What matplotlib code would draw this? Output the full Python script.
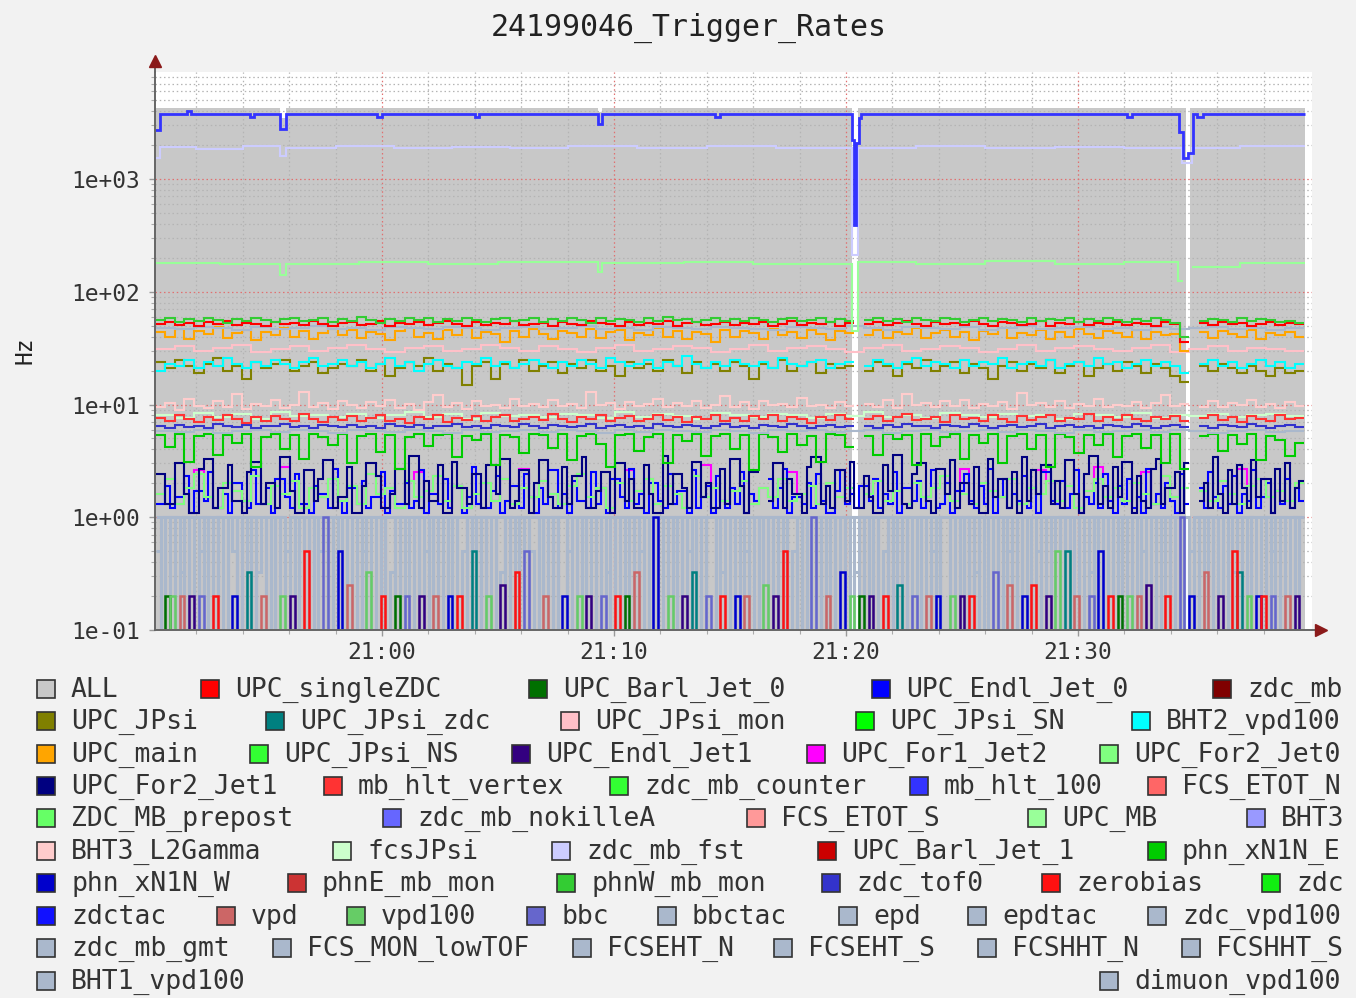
import numpy as np
import matplotlib
matplotlib.use('Agg')
import matplotlib.pyplot as plt
from matplotlib.patches import Rectangle
from matplotlib.ticker import FixedLocator, FuncFormatter, LogLocator, NullFormatter

W, H = 1356, 998
MONO = 'DejaVu Sans Mono'
GB = '#aab8cc'
FLOOR = 0.05
NA = np.nan   # no sample (run stopped)

# time axis: minutes after 20:50:00
T0_MIN = 0.25
STEP_A = 24.75 / 60      # 120-sample series
STEP_B = 12.375 / 60     # 240-sample series
STEP_C = 49.5 / 60       # 60-sample series

# ---------------- legend ----------------
legend_names = [
    'ALL', 'UPC_singleZDC', 'UPC_Barl_Jet_0', 'UPC_Endl_Jet_0', 'zdc_mb',
    'UPC_JPsi', 'UPC_JPsi_zdc', 'UPC_JPsi_mon', 'UPC_JPsi_SN', 'BHT2_vpd100',
    'UPC_main', 'UPC_JPsi_NS', 'UPC_Endl_Jet1', 'UPC_For1_Jet2', 'UPC_For2_Jet0',
    'UPC_For2_Jet1', 'mb_hlt_vertex', 'zdc_mb_counter', 'mb_hlt_100', 'FCS_ETOT_N',
    'ZDC_MB_prepost', 'zdc_mb_nokilleA', 'FCS_ETOT_S', 'UPC_MB', 'BHT3',
    'BHT3_L2Gamma', 'fcsJPsi', 'zdc_mb_fst', 'UPC_Barl_Jet_1', 'phn_xN1N_E',
    'phn_xN1N_W', 'phnE_mb_mon', 'phnW_mb_mon', 'zdc_tof0', 'zerobias', 'zdc',
    'zdctac', 'vpd', 'vpd100', 'bbc', 'bbctac', 'epd', 'epdtac', 'zdc_vpd100',
    'zdc_mb_gmt', 'FCS_MON_lowTOF', 'FCSEHT_N', 'FCSEHT_S', 'FCSHHT_N', 'FCSHHT_S',
    'BHT1_vpd100', 'dimuon_vpd100',
]
legend_colors = [
    '#c8c8c8', '#ff0000', '#007000', '#0000ff', '#800000',
    '#808000', '#008080', '#ffc0c8', '#00ff00', '#00ffff',
    '#ffa500', '#33ff33', '#330080', '#ff00ff', '#80ff80',
    '#000080', '#ff3333', '#33ff33', '#3333ff', '#ff6666',
    '#66ff66', '#6666ff', '#ff9999', '#99ff99', '#9999ff',
    '#ffcccc', '#ccffcc', '#ccccff', '#cc0000', '#00cc00',
    '#0000cc', '#cc3333', '#33cc33', '#3333cc', '#ff1111', '#11ee11',
    '#1111ff', '#cc6666', '#66cc66', '#6666cc', GB, GB, GB, GB,
    GB, GB, GB, GB, GB, GB,
    GB, GB,
]
legend_row = [0] * 5 + [1] * 5 + [2] * 5 + [3] * 5 + [4] * 5 + [5] * 5 + [6] * 6 + [7] * 8 + [8] * 6 + [9] * 2
legend_sq_x = [
    37, 201, 529, 872, 1213,
    37, 266, 561, 856, 1132,
    37, 250, 512, 807, 1100,
    37, 324, 610, 910, 1148,
    37, 383, 747, 1028, 1247,
    37, 333, 552, 818, 1148,
    37, 288, 557, 822, 1042, 1262,
    37, 217, 347, 527, 658, 839, 968, 1148,
    37, 273, 573, 774, 978, 1182,
    37, 1100,
]
legend_row_y = [689, 721, 754, 786, 818, 851, 883, 916, 948, 981]
COL = dict(zip(legend_names, legend_colors))

# ---------------- breakpoint series (minutes, Hz) ----------------
all_t = [0.2, 5.6, 5.85, 19.3, 19.5, 30.25, 30.5, 44.65, 44.85, 49.8]
all_v = [4250, 3500, 4250, 3900, 4250, 0, 4250, 0, 4250]

top_t = [0.2, 0.45, 1.6, 1.75, 4.3, 4.5, 5.6, 5.85, 9.8, 10.0, 14.0, 14.2, 19.3, 19.5,
         24.35, 24.55, 30.25, 30.35, 30.45, 30.55, 30.65, 42.1, 42.35, 44.35, 44.55,
         44.75, 44.95, 45.15, 45.4, 49.8]
top_v = [2700, 3780, 3980, 3780, 3550, 3780, 2780, 3780, 3550, 3780, 3550, 3780, 3100,
         3780, 3550, 3780, 2200, 390, 2100, 3500, 3780, 3550, 3780, 2600, 1540, 1700,
         3780, 3550, 3780]

fst_t = [0.2, 0.45, 2.0, 4.0, 5.6, 5.85, 8.0, 10.5, 13.0, 15.5, 18.0, 21.0, 24.0, 27.0,
         30.25, 30.5, 33.0, 36.0, 39.0, 42.0, 44.5, 44.9, 47.0, 49.8]
fst_v = [1550, 1920, 1850, 1950, 1600, 1900, 1980, 1870, 1940, 1880, 1960, 1890, 1950,
         1870, 210, 1900, 1960, 1880, 1940, 1870, 1400, 1900, 1950]

mb_t = [0.2, 3.0, 5.6, 5.85, 9.0, 12.0, 15.0, 19.3, 19.5, 23.0, 26.0, 30.25, 30.5, 33.0,
        36.0, 39.0, 42.0, 44.3, 44.55, 44.9, 47.0, 49.8]
mb_v = [180, 175, 140, 178, 184, 176, 182, 150, 180, 185, 177, 45, 182, 176, 186, 178,
        183, 125, NA, 165, 180]

# ---------------- 120-sample series ----------------
green55 = [56, 58, 54, 57, 55, 59, 56, 53, 57, 55, 58, 56, 54, 57, 59, 55, 56, 58, 54, 57,
           55, 60, 56, 53, 57, 55, 58, 56, 59, 54, 57, 55, 58, 56, 54, 57, 59, 55, 56, 58,
           54, 57, 55, 59, 56, 53, 58, 55, 57, 56, 54, 58, 55, 60, 56, 57, 54, 56, 58, 55,
           57, 55, 58, 56, 54, 57, 59, 55, 56, 58, 54, 57, 55, NA, 56, 58, 55, 57, 54, 59,
           56, 55, 58, 57, 54, 56, 59, 55, 57, 56, 54, 58, 55, 57, 56, 59, 54, 57, 55, 58,
           56, 54, 57, 55, 58, 56, 53, 40, NA, 55, 57, 56, 54, 58, 55, 57, 56, 54, 55, 53]
red53 = [52, 54, 51, 53, 50, 54, 52, 55, 51, 53, 52, 50, 54, 52, 53, 51, 55, 52, 50, 53,
         54, 51, 52, 55, 50, 53, 52, 54, 51, 53, 55, 52, 50, 54, 51, 53, 52, 55, 51, 52,
         53, 50, 54, 52, 51, 55, 53, 52, 50, 54, 51, 53, 52, 55, 50, 53, 54, 51, 52, 54,
         51, 53, 52, 54, 50, 52, 55, 51, 53, 52, 54, 50, 53, NA, 52, 54, 51, 53, 55, 52,
         50, 54, 52, 53, 51, 55, 52, 50, 54, 53, 51, 52, 55, 50, 53, 52, 54, 51, 53, 52,
         54, 51, 53, 52, 50, 54, 52, 36, NA, 53, 51, 54, 52, 53, 50, 52, 54, 51, 53, 52]
orange42 = [44, 40, 47, 38, 45, 42, 49, 39, 43, 46, 37, 44, 41, 48, 40, 45, 38, 43, 47, 41,
            46, 39, 44, 42, 37, 45, 48, 40, 43, 38, 46, 41, 49, 39, 44, 42, 36, 45, 40, 47,
            42, 38, 45, 43, 40, 47, 39, 44, 46, 37, 43, 41, 48, 40, 45, 38, 44, 42, 36, 46,
            40, 45, 43, 38, 47, 41, 44, 39, 46, 42, 37, 45, 43, NA, 41, 46, 39, 44, 42, 48,
            39, 43, 46, 40, 44, 37, 45, 42, 48, 39, 43, 41, 46, 38, 44, 40, 47, 42, 39, 45,
            43, 40, 46, 38, 44, 41, 42, 30, NA, 44, 39, 45, 42, 40, 46, 38, 43, 41, 44, 40]
olive22 = [24, 21, 25, 22, 19, 23, 26, 20, 22, 17, 24, 21, 23, 25, 20, 22, 24, 19, 21, 23,
           22, 25, 20, 23, 18, 21, 24, 22, 26, 20, 23, 21, 15, 22, 24, 17, 23, 21, 25, 20,
           22, 24, 19, 23, 21, 25, 20, 22, 18, 24, 21, 23, 20, 25, 22, 19, 24, 21, 23, 20,
           24, 22, 17, 23, 21, 25, 20, 22, 24, 19, 23, 21, 22, NA, 20, 24, 22, 18, 23, 21,
           25, 20, 22, 24, 19, 23, 21, 17, 22, 24, 20, 23, 21, 25, 19, 22, 24, 18, 21, 23,
           20, 24, 22, 19, 23, 21, 18, 16, NA, 22, 20, 23, 21, 19, 22, 20, 18, 21, 19, 20]
cyan23 = [20, 23, 22, 25, 21, 24, 22, 26, 23, 21, 24, 22, 25, 23, 21, 24, 26, 22, 23, 25,
          22, 24, 21, 23, 26, 22, 24, 20, 23, 25, 22, 21, 24, 23, 26, 22, 24, 21, 23, 25,
          23, 21, 24, 22, 25, 23, 21, 26, 24, 22, 23, 25, 21, 24, 22, 27, 23, 21, 24, 22,
          25, 23, 22, 24, 21, 26, 23, 22, 24, 25, 21, 23, 24, NA, 22, 25, 23, 21, 24, 26,
          22, 24, 23, 21, 25, 22, 24, 23, 26, 21, 23, 24, 22, 25, 21, 23, 24, 22, 26, 23,
          24, 21, 23, 25, 22, 24, 22, 19, NA, 23, 25, 22, 24, 21, 23, 25, 22, 24, 21, 23]
pink10 = [9.6, 10.4, 9.0, 11.2, 9.8, 9.3, 10.8, 9.5, 12.5, 9.1, 10.2, 9.7, 10.9, 9.4, 10.0, 13.0, 9.6, 10.3, 9.2, 10.7,
          9.9, 9.3, 10.6, 9.7, 11.0, 9.4, 10.1, 9.0, 10.5, 12.2, 9.6, 10.3, 9.2, 10.8, 9.8, 10.0, 9.4, 11.3, 9.7, 10.2,
          9.5, 10.9, 9.8, 10.2, 9.3, 12.8, 9.9, 10.4, 9.1, 10.6, 9.7, 10.1, 11.1, 9.5, 10.3, 9.8, 10.7, 9.4, 10.0, 12.0,
          9.6, 10.5, 9.2, 10.8, 9.9, 10.2, 9.5, 11.4, 9.7, 10.0, 9.3, 10.6, 9.8, NA, 10.1, 9.6, 10.9, 9.4, 12.4, 9.9,
          10.3, 9.5, 10.7, 9.8, 11.0, 9.4, 10.2, 9.7, 10.5, 9.2, 12.6, 9.9, 10.4, 9.6, 10.8, 9.3, 10.1, 9.8, 11.2, 9.5,
          10.0, 9.7, 10.6, 9.4, 10.3, 12.1, 9.8, 10.2, NA, 9.6, 10.7, 9.5, 10.4, 9.9, 11.0, 9.6, 10.2, 9.4, 10.5, 9.8]
red7 = [7.6, 7.2, 8.0, 7.4, 7.0, 7.8, 7.3, 8.1, 7.5, 6.9, 7.7, 7.2, 7.9, 7.4, 7.1, 8.2, 7.5, 7.0, 7.8, 7.3,
        7.9, 7.1, 7.6, 8.0, 7.2, 7.5, 6.9, 7.8, 7.4, 8.1, 7.0, 7.6, 7.3, 7.9, 7.1, 7.7, 8.0, 7.2, 7.5, 7.8,
        7.3, 8.2, 7.5, 7.0, 7.7, 7.4, 8.0, 7.2, 7.6, 7.9, 7.1, 7.5, 8.1, 7.3, 7.7, 7.0, 7.8, 7.4, 8.0, 7.2,
        7.6, 7.1, 7.9, 7.4, 8.1, 7.2, 7.7, 7.5, 6.9, 7.8, 7.3, 8.0, 7.5, NA, 7.4, 7.9, 7.1, 7.7, 8.2, 7.3,
        7.5, 7.8, 7.0, 8.0, 7.4, 7.6, 7.2, 8.1, 7.5, 7.0, 7.9, 7.3, 7.7, 8.0, 7.2, 7.6, 7.4, 8.2, 7.1, 7.7,
        7.3, 8.0, 7.5, 7.1, 7.8, 7.4, 7.9, 7.2, NA, 7.6, 8.1, 7.3, 7.7, 7.0, 7.9, 7.5, 7.2, 8.0, 7.4, 7.6]
blue6 = [6.4, 6.2, 6.6, 6.3, 6.5, 6.2, 6.7, 6.4, 6.3, 6.6, 6.2, 6.5, 6.4, 6.7, 6.3, 6.5, 6.2, 6.6, 6.4, 6.3,
         6.6, 6.3, 6.5, 6.2, 6.7, 6.4, 6.3, 6.6, 6.2, 6.5, 6.4, 6.7, 6.3, 6.5, 6.2, 6.6, 6.4, 6.3, 6.7, 6.5,
         6.2, 6.6, 6.4, 6.3, 6.5, 6.7, 6.2, 6.4, 6.6, 6.3, 6.5, 6.2, 6.7, 6.4, 6.3, 6.6, 6.5, 6.2, 6.4, 6.7,
         6.3, 6.5, 6.2, 6.6, 6.4, 6.3, 6.7, 6.5, 6.2, 6.4, 6.6, 6.3, 6.5, NA, 6.4, 6.2, 6.6, 6.3, 6.7, 6.4,
         6.5, 6.2, 6.6, 6.4, 6.3, 6.7, 6.5, 6.2, 6.4, 6.6, 6.3, 6.5, 6.7, 6.2, 6.4, 6.6, 6.3, 6.5, 6.2, 6.6,
         6.4, 6.3, 6.7, 6.5, 6.2, 6.4, 6.6, 6.3, NA, 6.5, 6.2, 6.6, 6.4, 6.3, 6.7, 6.5, 6.2, 6.4, 6.6, 6.3]
green_noisy = [5.4, 4.2, 5.5, 3.1, 5.3, 5.5, 3.6, 5.4, 4.6, 5.5, 2.8, 5.2, 5.5, 4.0, 5.4, 3.3, 5.5, 5.1, 4.4, 5.5,
               3.0, 5.3, 5.5, 3.8, 5.4, 2.7, 5.2, 5.5, 4.3, 5.4, 5.5, 3.4, 5.3, 4.8, 5.5, 2.9, 5.4, 5.2, 3.7, 5.5,
               5.4, 4.1, 5.5, 3.2, 5.3, 5.5, 4.5, 2.8, 5.4, 5.5, 3.9, 5.2, 5.5, 3.0, 5.4, 4.7, 5.5, 3.5, 5.3, 5.5,
               4.0, 5.4, 2.6, 5.5, 5.2, 3.8, 5.5, 4.4, 5.3, 3.1, 5.5, 5.4, 4.2, NA, 5.3, 3.6, 5.5, 4.9, 5.4, 2.9,
               5.5, 4.3, 5.2, 5.5, 3.3, 5.4, 4.6, 5.5, 3.0, 5.3, 5.5, 4.0, 5.4, 2.8, 5.5, 5.2, 3.7, 5.4, 4.4, 5.5,
               3.4, 5.3, 5.5, 4.1, 5.4, 3.0, 5.5, 2.7, NA, 5.3, 5.5, 3.9, 5.4, 4.5, 5.5, 3.2, 5.3, 4.8, 3.5, 4.6]
lgreen_noisy = [1.6, 2.2, 1.3, 1.8, 2.4, 1.5, 1.2, 2.0, 1.7, 1.4, 2.3, 1.3, 1.9, 1.6, 2.1, 1.2, 1.8, 1.5, 2.2, 1.4,
                1.9, 1.3, 2.4, 1.6, 1.8, 1.2, 2.1, 1.5, 1.7, 2.3, 1.4, 1.9, 1.2, 1.6, 2.0, 1.4, 2.2, 1.3, 1.8, 1.5,
                2.1, 1.6, 1.3, 1.9, 2.4, 1.5, 1.8, 1.2, 2.0, 1.4, 1.7, 2.2, 1.3, 1.9, 1.6, 1.2, 2.3, 1.5, 1.8, 1.4,
                1.7, 2.1, 1.3, 1.8, 1.5, 2.2, 1.4, 1.6, 1.9, 1.3, 2.0, 1.5, 1.8, NA, 1.6, 2.1, 1.4, 1.7, 1.3, 2.0,
                1.5, 1.8, 2.3, 1.4, 1.6, 1.3, 2.0, 1.7, 1.5, 2.2, 1.3, 1.8, 1.6, 2.1, 1.4, 1.9, 1.2, 1.7, 2.2, 1.5,
                1.8, 1.4, 2.0, 1.6, 1.3, 2.3, 1.5, 1.8, NA, 1.7, 1.4, 2.1, 1.6, 1.3, 1.9, 2.2, 1.5, 1.7, 1.4, 2.0]
magenta = [1.6, 2.2, 1.3, 1.8, 2.6, 1.5, 1.2, 2.0, 1.7, 1.4, 2.3, 1.3, 1.9, 2.8, 2.1, 1.2, 1.8, 1.5, 2.2, 1.4,
           1.9, 1.3, 2.4, 1.6, 1.8, 1.2, 2.1, 2.5, 1.7, 2.3, 1.4, 1.9, 1.2, 1.6, 2.0, 1.4, 2.2, 1.3, 2.7, 1.5,
           2.1, 1.6, 1.3, 1.9, 2.4, 1.5, 1.8, 1.2, 2.0, 2.6, 1.7, 2.2, 1.3, 1.9, 1.6, 1.2, 2.3, 2.9, 1.8, 1.4,
           1.7, 2.1, 1.3, 1.8, 1.5, 2.2, 2.5, 1.6, 1.9, 1.3, 2.0, 1.5, 1.8, NA, 1.6, 2.1, 1.4, 1.7, 1.3, 2.0,
           1.5, 1.8, 2.3, 1.4, 2.7, 1.3, 2.0, 1.7, 1.5, 2.2, 1.3, 1.8, 2.6, 2.1, 1.4, 1.9, 1.2, 1.7, 2.8, 1.5,
           1.8, 1.4, 2.0, 2.5, 1.3, 2.3, 1.5, 1.8, NA, 1.7, 1.4, 2.1, 1.6, 2.7, 1.9, 2.2, 1.5, 1.7, 1.4, 2.0]

# ---------------- 240-sample series ----------------
navy = [2.4, 2.4, 1.3, 1.3, 3.0, 3.0, 1.6, 1.1, 1.1, 2.7, 3.3, 3.3, 1.2, 1.8, 1.8, 2.9, 1.4, 1.4, 1.1, 2.5,
        3.1, 3.1, 1.3, 2.0, 2.0, 1.2, 3.4, 3.4, 1.7, 1.1, 1.1, 2.6, 2.6, 1.4, 2.2, 3.2, 3.2, 1.2, 1.5, 1.5,
        2.8, 1.1, 1.1, 1.9, 3.0, 3.0, 2.3, 1.2, 1.2, 1.6, 2.7, 2.7, 1.3, 3.5, 3.5, 1.2, 2.1, 1.4, 1.4, 2.9,
        1.1, 1.1, 3.1, 1.8, 1.8, 1.3, 2.4, 2.4, 1.2, 2.9, 2.9, 1.6, 3.3, 3.3, 1.2, 1.4, 2.6, 2.6, 1.1, 2.0,
        3.2, 3.2, 1.5, 1.2, 1.2, 2.8, 1.3, 2.3, 2.3, 3.4, 1.2, 1.2, 1.7, 2.5, 2.5, 1.1, 3.0, 3.0, 1.4, 2.2,
        1.2, 1.2, 2.9, 1.6, 1.1, 1.1, 3.5, 1.3, 2.4, 2.4, 1.8, 1.2, 3.1, 3.1, 1.5, 2.0, 1.2, 1.2, 2.7, 1.3,
        3.3, 3.3, 1.9, 1.1, 2.5, 2.5, NA, NA, 1.4, 3.0, 3.0, 1.2, 2.2, 1.6, 1.6, 1.1, 2.8, 3.4, 3.4, 1.3,
        1.9, 1.2, 2.6, 2.6, 1.4, 3.1, 1.2, 1.2, 2.3, 1.5, 1.1, 1.1, 2.9, 1.7, 3.6, 3.6, 1.3, 1.2, 2.4, 3.0,
        3.0, 1.4, 1.1, 2.7, 2.7, 1.6, 3.2, 1.2, 2.0, 2.0, 1.3, 2.8, 1.1, 1.1, 3.3, 1.5, 2.2, 2.2, 1.2, 2.5,
        1.1, 3.4, 1.4, 2.6, 1.6, 2.9, 2.9, 1.3, 2.1, 1.2, 3.2, 3.2, 1.6, 1.1, 2.4, 3.5, 3.5, 1.3, 1.9, 1.2,
        2.8, 1.5, 3.1, 3.1, 1.1, 2.3, 1.4, 1.2, 2.7, 3.3, 1.3, 1.8, 1.8, 2.5, 1.1, 3.0, NA, NA, 1.4, 2.0,
        1.2, 3.4, 1.6, 1.1, 2.6, 1.3, 2.9, 1.8, 1.2, 3.2, 1.5, 2.2, 2.2, 1.1, 2.7, 1.4, 3.0, 1.2, 1.8, 2.1]
blue_noisy = [1.3, 1.3, 1.9, 1.2, 1.5, 1.5, 2.3, 1.1, 1.7, 1.7, 1.4, 2.5, 1.2, 1.2, 1.6, 1.1, 2.0, 2.0, 1.4, 1.2,
              2.6, 1.3, 1.3, 1.8, 1.1, 2.2, 2.2, 1.5, 1.2, 2.4, 1.3, 1.3, 1.1, 1.9, 1.6, 1.6, 1.2, 2.7, 1.4, 1.1,
              1.8, 1.8, 1.3, 2.1, 1.2, 1.5, 1.5, 2.5, 1.1, 1.7, 1.3, 1.3, 2.0, 1.2, 1.4, 2.6, 1.1, 1.6, 1.6, 1.3,
              2.2, 1.2, 1.9, 1.9, 1.1, 1.5, 2.8, 1.3, 1.2, 1.2, 1.7, 2.3, 1.1, 1.4, 1.9, 1.9, 1.2, 2.4, 1.5, 1.1,
              1.8, 1.3, 2.6, 2.6, 1.2, 1.6, 1.1, 2.1, 1.4, 1.4, 1.2, 2.5, 1.3, 1.8, 1.1, 2.2, 2.2, 1.5, 1.2, 2.7,
              1.3, 1.6, 1.1, 2.0, 2.0, 1.4, 1.2, 2.4, 1.3, 1.7, 1.7, 1.1, 2.6, 1.2, 1.5, 1.9, 1.1, 2.3, 1.4, 1.2,
              1.8, 1.3, 2.5, 1.1, 1.6, 1.4, NA, NA, 2.2, 1.2, 1.8, 2.7, 1.1, 1.5, 1.5, 1.3, 2.0, 1.2, 2.4, 1.4,
              1.1, 1.1, 1.7, 2.6, 1.3, 1.6, 1.2, 1.9, 1.9, 1.4, 2.2, 1.2, 1.6, 1.3, 2.5, 1.1, 1.8, 1.8, 1.4, 2.1,
              1.2, 1.5, 2.6, 1.2, 1.3, 2.0, 1.1, 1.7, 1.7, 2.4, 1.4, 1.2, 1.9, 1.3, 2.7, 1.1, 1.5, 2.2, 1.2, 1.6,
              1.4, 2.3, 1.2, 1.8, 1.1, 2.5, 2.5, 1.4, 1.3, 2.1, 1.2, 1.6, 2.6, 1.1, 1.5, 1.3, 2.0, 1.2, 2.4, 1.4,
              1.1, 1.9, 1.3, 2.2, 1.2, 1.5, 1.1, 2.7, 1.3, 1.6, 1.2, 2.0, 1.4, 1.1, 2.4, 1.3, NA, NA, 1.8, 1.2,
              2.5, 1.5, 1.2, 1.9, 1.3, 2.3, 1.1, 1.6, 1.4, 2.6, 1.2, 1.5, 2.0, 1.1, 1.7, 1.3, 2.2, 1.2, 1.8, 1.4]

# ---------------- 60-sample series ----------------
gray48 = [48, 47, 49, 48, 46, 49, 47, 48, 50, 47,
          48, 46, 49, 48, 47, 49, 48, 46, 48, 49,
          47, 48, 50, 47, 48, 46, 49, 48, 47, 49,
          48, 47, 46, 49, 48, 47, 50, 48, 46, 49,
          48, 47, 49, 46, 48, 50, 47, 48, 49, 47,
          48, 46, 49, 47, 48, 49, 47, 48, 46, 48]
pink31 = [31, 33, 30, 32, 34, 29, 31, 33, 30, 32,
          34, 31, 29, 32, 33, 30, 31, 34, 32, 30,
          33, 31, 29, 32, 34, 30, 31, 33, 32, 29,
          31, 34, 30, 32, 33, 31, 29, 32, 34, 30,
          31, 33, 32, 29, 31, 34, 30, 32, 33, 31,
          30, 32, 34, 29, 31, 33, 30, 32, 31, 30]
lgreen7 = [8.0, 7.6, 8.4, 7.8, 8.2, 7.5, 8.5, 7.9, 8.1, 7.7,
           8.3, 7.6, 8.0, 8.6, 7.8, 8.2, 7.5, 8.4, 7.9, 8.1,
           7.7, 8.3, 8.0, 7.6, 8.5, 7.8, 8.2, 7.9, 7.5, 8.4,
           8.1, 7.7, 8.3, 8.0, 7.6, 8.2, 7.9, 8.5, 7.8, 8.1,
           7.6, 8.4, 8.0, 7.7, 8.3, 7.9, 8.1, 7.5, 8.2, 8.0,
           7.8, 8.4, 7.6, 8.1, 7.9, 8.3, 7.7, 8.0, 8.2, 7.9]
gray6 = [5.8, 5.7, 5.9, 5.6, 5.8, 6.0, 5.7, 5.9, 5.8, 5.6,
         5.9, 5.8, 5.7, 6.0, 5.8, 5.6, 5.9, 5.7, 5.8, 6.0,
         5.7, 5.9, 5.8, 5.6, 5.9, 5.7, 6.0, 5.8, 5.7, 5.9,
         5.8, 5.6, 5.9, 5.8, 6.0, 5.7, 5.8, 5.9, 5.6, 5.8,
         5.9, 5.7, 5.8, 6.0, 5.7, 5.9, 5.8, 5.6, 5.9, 5.7,
         5.8, 6.0, 5.7, 5.9, 5.8, 5.6, 5.8, 5.9, 5.7, 5.8]

# ---------------- 240-sample low-rate series ----------------
gb_epdtac = [1, 0, 1, 1, 0, 1, 0, 0, 1, 1, 0, 1, 0, 1, 1, 0, 0, 1, 0, 1,
             0, 1, 1, 0, 1, 0, 1, 0, 0, 1, 1, 0, 1, 0, 1, 1, 0, 1, 0, 0,
             1, 1, 0, 1, 0, 0, 1, 0, 1, 1, 0, 1, 1, 0, 0, 1, 0, 1, 0, 1,
             1, 0, 0, 1, 1, 0, 1, 0, 1, 0, 0, 1, 1, 0, 1, 0, 1, 1, 0, 0,
             1, 0, 1, 0, 1, 1, 0, 0, 1, 0, 1, 1, 0, 1, 0, 0, 1, 0, 1, 1,
             0, 1, 0, 1, 1, 0, 0, 1, 0, 1, 0, 1, 1, 0, 1, 0, 0, 1, 1, 0,
             1, 0, 1, 1, 0, 0, 1, 0, 1, 0, 1, 1, 0, 0, 1, 0, 1, 1, 0, 1,
             0, 0, 1, 0, 1, 1, 0, 1, 0, 1, 1, 0, 0, 1, 0, 1, 0, 1, 1, 0,
             1, 1, 0, 1, 0, 0, 1, 1, 0, 1, 0, 1, 0, 0, 1, 1, 0, 1, 0, 1,
             0, 1, 1, 0, 0, 1, 0, 1, 1, 0, 1, 0, 0, 1, 1, 0, 1, 0, 1, 0,
             1, 0, 1, 0, 1, 1, 0, 0, 1, 0, 1, 1, 0, 1, 0, 1, 0, 0, 1, 1,
             0, 1, 0, 1, 1, 0, 1, 0, 0, 1, 1, 0, 1, 0, 1, 0, 1, 1, 0, 1]
gb_zdc_vpd100 = [0, 1, 0, 0, 1, 1, 0, 1, 1, 0, 1, 0, 0, 1, 0, 1, 1, 0, 1, 0,
                 1, 0, 0, 1, 0, 1, 1, 0, 1, 0, 0, 1, 0, 1, 0, 0, 1, 0, 1, 1,
                 0, 1, 1, 0, 1, 1, 0, 1, 0, 0, 1, 0, 1, 1, 0, 1, 1, 0, 1, 0,
                 0, 1, 1, 0, 0, 1, 0, 1, 0, 1, 1, 0, 0, 1, 0, 1, 0, 0, 1, 1,
                 0, 1, 0, 1, 0, 0, 1, 1, 0, 1, 0, 0, 1, 0, 1, 1, 0, 1, 0, 0,
                 1, 0, 1, 0, 0, 1, 1, 0, 1, 0, 1, 0, 0, 1, 0, 1, 1, 0, 0, 1,
                 0, 1, 0, 0, 1, 1, 0, 1, 0, 1, 0, 0, 1, 1, 0, 1, 0, 0, 1, 0,
                 1, 1, 0, 1, 0, 0, 1, 0, 1, 0, 0, 1, 1, 0, 1, 0, 1, 0, 0, 1,
                 0, 0, 1, 0, 1, 1, 0, 0, 1, 0, 1, 0, 1, 1, 0, 0, 1, 0, 1, 0,
                 1, 0, 0, 1, 1, 0, 1, 0, 0, 1, 0, 1, 1, 0, 0, 1, 0, 1, 0, 1,
                 0, 1, 0, 1, 0, 0, 1, 1, 0, 1, 0, 0, 1, 0, 1, 1, 0, 1, 0, 0,
                 1, 0, 1, 0, 0, 1, 0, 1, 1, 0, 0, 1, 0, 1, 0, 1, 0, 0, 1, 0]
gb_zdc_mb_gmt = [0.5, 0, 0, 1, 0, 0.33, 1, 0, 0, 0.5, 1, 0, 1, 0, 0, 1, 0.5, 0, 0, 1,
                 0, 0.33, 1, 0, 0, 1, 0, 0.5, 1, 0, 0, 1, 0, 0, 0.5, 1, 0, 0, 1, 0,
                 1, 0, 0, 0.5, 1, 0, 0, 1, 0, 0.33, 0, 1, 0, 0, 1, 0, 0.5, 1, 0, 0,
                 0, 1, 0, 0, 0.5, 1, 0, 0, 1, 0, 1, 0, 0.33, 1, 0, 0, 1, 0, 0.5, 0,
                 1, 0, 0, 1, 0, 0, 0.5, 1, 0, 1, 0, 0, 1, 0, 0.33, 0, 1, 0, 0, 1,
                 0, 0.5, 1, 0, 1, 0, 0, 1, 0, 0, 1, 0.5, 0, 0, 1, 0, 0, 1, 0.33, 0,
                 1, 0, 0, 0.5, 0, 1, 0, 0, 1, 0, 0, 1, 0, 0.5, 0, 1, 1, 0, 0, 1,
                 0, 1, 0, 0, 1, 0, 0.33, 1, 0, 0, 1, 0, 0.5, 0, 1, 0, 0, 1, 0, 0,
                 1, 0, 0.5, 1, 0, 0, 1, 0, 0, 1, 0, 0.33, 1, 0, 0, 1, 0, 0, 0.5, 1,
                 0, 0, 1, 0, 0.5, 1, 0, 0, 1, 0, 1, 0, 0, 1, 0, 0.33, 1, 0, 0, 1,
                 0, 1, 0, 0, 1, 0, 0.5, 0, 1, 0, 0, 1, 0, 0, 1, 0, 0.5, 1, 0, 0,
                 1, 0, 0, 1, 0, 0.33, 1, 0, 0, 1, 0, 0, 1, 0.5, 0, 1, 0, 0, 1, 0]
gb_fcseht_n = [0, 0, 1, 0, 0, 0, 1, 0, 0, 1, 0, 0, 0, 1, 0, 0, 0, 1, 0, 0,
               1, 0, 0, 0, 1, 0, 0, 0, 0, 1, 0, 0, 1, 0, 0, 0, 1, 0, 0, 0,
               0, 0, 1, 0, 0, 0, 0, 1, 0, 0, 1, 0, 0, 0, 1, 0, 0, 0, 0, 1,
               0, 1, 0, 0, 0, 1, 0, 0, 1, 0, 0, 0, 0, 1, 0, 0, 1, 0, 0, 0,
               0, 0, 0, 1, 0, 0, 1, 0, 0, 0, 0, 1, 0, 0, 0, 1, 0, 0, 1, 0,
               1, 0, 0, 0, 0, 1, 0, 0, 0, 1, 0, 0, 1, 0, 0, 0, 0, 1, 0, 0,
               0, 0, 1, 0, 0, 0, 1, 0, 0, 0, 1, 0, 0, 0, 0, 1, 0, 0, 0, 1,
               0, 1, 0, 0, 1, 0, 0, 0, 0, 1, 0, 0, 0, 1, 0, 0, 1, 0, 0, 0,
               0, 0, 0, 1, 0, 0, 0, 1, 0, 0, 1, 0, 0, 0, 0, 1, 0, 0, 1, 0,
               1, 0, 0, 0, 1, 0, 0, 0, 0, 1, 0, 0, 1, 0, 0, 0, 1, 0, 0, 0,
               0, 0, 1, 0, 0, 0, 1, 0, 0, 0, 0, 1, 0, 0, 1, 0, 0, 0, 0, 1,
               0, 1, 0, 0, 0, 1, 0, 0, 1, 0, 0, 0, 1, 0, 0, 0, 0, 1, 0, 0]

# sparse events on the 240-sample grid: (sample index, Hz)
zerobias_i = [12, 31, 47, 63, 75, 96, 118, 131, 152, 170, 183, 199, 211, 225, 231]
zerobias_v = [0.2, 0.5, 0.2, 0.2, 0.33, 0.2, 0.2, 0.5, 0.2, 0.2, 0.25, 0.2, 0.2, 0.5, 0.2]
vpd_i = [5, 22, 40, 58, 81, 100, 123, 140, 161, 178, 192, 205, 219, 236]
vpd_v = [0.2, 0.2, 0.25, 0.2, 0.2, 0.33, 0.2, 0.2, 0.2, 0.25, 0.2, 0.2, 0.33, 0.2]
vpd100_i = [3, 26, 44, 69, 88, 107, 127, 145, 166, 188, 203, 228]
vpd100_v = [0.2, 0.2, 0.33, 0.2, 0.2, 0.2, 0.25, 0.2, 0.2, 0.5, 0.2, 0.2]
bbc_i = [9, 35, 52, 77, 93, 115, 137, 158, 175, 195, 214, 233]
bbc_v = [0.2, 1.0, 0.2, 0.5, 0.2, 0.2, 1.0, 0.2, 0.33, 0.2, 1.0, 0.2]
endl_jet1_i = [7, 28, 55, 72, 90, 110, 129, 149, 168, 186, 207, 222, 238]
endl_jet1_v = [0.2, 0.2, 0.2, 0.25, 0.2, 0.2, 0.2, 0.2, 0.2, 0.2, 0.25, 0.2, 0.2]
xn1n_w_i = [16, 38, 61, 85, 104, 121, 143, 163, 181, 197, 216, 230]
xn1n_w_v = [0.2, 0.5, 0.2, 0.2, 1.0, 0.2, 0.33, 0.2, 0.2, 0.5, 0.2, 0.2]
jpsi_zdc_i = [19, 66, 112, 155, 190, 226]
jpsi_zdc_v = [0.33, 0.5, 0.33, 0.25, 0.5, 0.33]
barl_jet0_i = [2, 50, 98, 147, 201]
barl_jet0_v = [0.2, 0.2, 0.2, 0.2, 0.2]

plt.rcParams['font.family'] = [MONO, 'DejaVu Sans']

fig = plt.figure(figsize=(W / 100, H / 100), dpi=100, facecolor='#f2f2f2')
ax = fig.add_axes([155 / W, 1 - 630 / H, (1312 - 155) / W, (630 - 72) / H])
ax.set_facecolor('white')
ax.set_yscale('log')
ax.set_ylim(0.1, 8900)
ax.set_xlim(0.216, 50.09)


def grid_edges(n, step):
    return T0_MIN + np.arange(n + 1) * step


def step_line(vals, edges, color, lw=1.5, z=2.0):
    v = np.asarray(vals, dtype=float)
    v = np.where(np.isnan(v), np.nan, np.maximum(v, FLOOR))
    ax.stairs(v, edges, baseline=None, color=color, lw=lw, zorder=z)


def sparse(idx, vals, n=240):
    a = np.zeros(n)
    a[idx] = vals
    return a


edges_a = grid_edges(120, STEP_A)
edges_b = grid_edges(240, STEP_B)
edges_c = grid_edges(60, STEP_C)

# ALL as a filled area
ax.stairs(np.maximum(np.asarray(all_v, float), FLOOR), all_t, baseline=FLOOR, fill=True,
          color=COL['ALL'], zorder=0.2, lw=0)

# low-rate streaks
for vals, z in [(gb_epdtac, 1.0), (gb_zdc_vpd100, 1.01), (gb_zdc_mb_gmt, 1.02), (gb_fcseht_n, 1.03)]:
    step_line(vals, edges_b, GB, lw=2.2, z=z)
for (idx, vals), name in [((barl_jet0_i, barl_jet0_v), 'UPC_Barl_Jet_0'),
                          ((jpsi_zdc_i, jpsi_zdc_v), 'UPC_JPsi_zdc'),
                          ((vpd_i, vpd_v), 'vpd'),
                          ((vpd100_i, vpd100_v), 'vpd100'),
                          ((bbc_i, bbc_v), 'bbc'),
                          ((endl_jet1_i, endl_jet1_v), 'UPC_Endl_Jet1'),
                          ((xn1n_w_i, xn1n_w_v), 'phn_xN1N_W'),
                          ((zerobias_i, zerobias_v), 'zerobias')]:
    step_line(sparse(idx, vals), edges_b, COL[name], lw=1.8, z=1.2)

# 1-10 Hz band
step_line(magenta, edges_a, COL['UPC_For1_Jet2'], z=1.45)
step_line(blue_noisy, edges_b, COL['UPC_Endl_Jet_0'], z=1.6)
step_line(lgreen_noisy, edges_a, COL['UPC_For2_Jet0'], z=1.62)
step_line(navy, edges_b, COL['UPC_For2_Jet1'], z=1.65)
step_line(green_noisy, edges_a, COL['phn_xN1N_E'], z=1.7)
step_line(gray6, edges_c, COL['bbctac'], z=1.75)
step_line(blue6, edges_a, COL['zdc_tof0'], z=1.8)
step_line(lgreen7, edges_c, COL['fcsJPsi'], z=1.85)
step_line(red7, edges_a, COL['mb_hlt_vertex'], z=1.9)
step_line(pink10, edges_a, COL['BHT3_L2Gamma'], z=1.95)

# 10-100 Hz band
step_line(pink31, edges_c, COL['UPC_JPsi_mon'], z=2.0)
step_line(olive22, edges_a, COL['UPC_JPsi'], z=2.05)
step_line(cyan23, edges_a, COL['BHT2_vpd100'], z=2.1)
step_line(orange42, edges_a, COL['UPC_main'], z=2.15)
step_line(gray48, edges_c, COL['epd'], z=2.2)
step_line(red53, edges_a, COL['UPC_singleZDC'], z=2.25)
step_line(green55, edges_a, COL['phnW_mb_mon'], z=2.3)

# high rates
step_line(mb_v, mb_t, COL['UPC_MB'], z=2.4)
step_line(fst_v, fst_t, COL['zdc_mb_fst'], z=2.45)
step_line(top_v, top_t, COL['mb_hlt_100'], lw=2.0, z=2.5)

# grid
RED_GRID = '#e07070'
GRAY_GRID = '#b4b4b4'
ax.set_xticks([10, 20, 30, 40])
ax.xaxis.set_minor_locator(FixedLocator([m for m in range(2, 50, 2) if m % 10]))
ax.xaxis.set_major_formatter(FuncFormatter(lambda m, p: '%02d:%02d' % (20 + (50 + int(m)) // 60, (50 + int(m)) % 60)))
ax.yaxis.set_major_locator(LogLocator(base=10, numticks=10))
ax.yaxis.set_minor_locator(LogLocator(base=10, subs=np.arange(2, 10), numticks=20))
ax.yaxis.set_major_formatter(FuncFormatter(lambda v, p: '%.0e' % v))
ax.yaxis.set_minor_formatter(NullFormatter())
ax.set_axisbelow(True)
ax.grid(True, which='major', color=RED_GRID, ls=(0, (1.2, 2.2)), lw=0.9, zorder=0.5)
ax.grid(True, which='minor', color=GRAY_GRID, ls=(0, (1.2, 2.2)), lw=0.9, zorder=0.5)

ax.tick_params(axis='both', which='major', length=4, width=1, color='#999999',
               labelsize=16.5, labelcolor='#333333', pad=7)
ax.tick_params(axis='both', which='minor', length=3, width=0.8, color='#aaaaaa')
ax.tick_params(axis='x', which='major', pad=4)

for s in ['top', 'right']:
    ax.spines[s].set_visible(False)
for s in ['left', 'bottom']:
    ax.spines[s].set_color('#666666')
    ax.spines[s].set_linewidth(1.4)
    ax.spines[s].set_zorder(5)

# axis arrows
ax.plot([0, 0], [1.0, 1.015], transform=ax.transAxes, color='#666666', lw=1.4, clip_on=False)
ax.plot([0], [1.02], marker='^', ms=9, color='#8b1a1a', transform=ax.transAxes, clip_on=False)
ax.plot([1.0, 1.006], [0, 0], transform=ax.transAxes, color='#666666', lw=1.4, clip_on=False)
ax.plot([1.008], [0], marker='>', ms=9, color='#8b1a1a', transform=ax.transAxes, clip_on=False)

fig.text(689 / W, 1 - 28 / H, '24199046_Trigger_Rates', ha='center', va='center',
         fontsize=21.5, color='#222222')
fig.text(25 / W, 1 - 350 / H, 'Hz', rotation=90, ha='center', va='center',
         fontsize=16.5, color='#222222')

# legend
SQ = 18
for name, color, row, sx in zip(legend_names, legend_colors, legend_row, legend_sq_x):
    yc = legend_row_y[row]
    fig.add_artist(Rectangle((sx / W, 1 - (yc + SQ / 2) / H), SQ / W, SQ / H,
                             transform=fig.transFigure, facecolor=color,
                             edgecolor='#333333', lw=1.2))
    fig.text((sx + 34) / W, 1 - (yc + 1) / H, name, ha='left', va='center',
             fontsize=19, color='#333333')

fig.savefig('out.png', dpi=100, facecolor=fig.get_facecolor())
